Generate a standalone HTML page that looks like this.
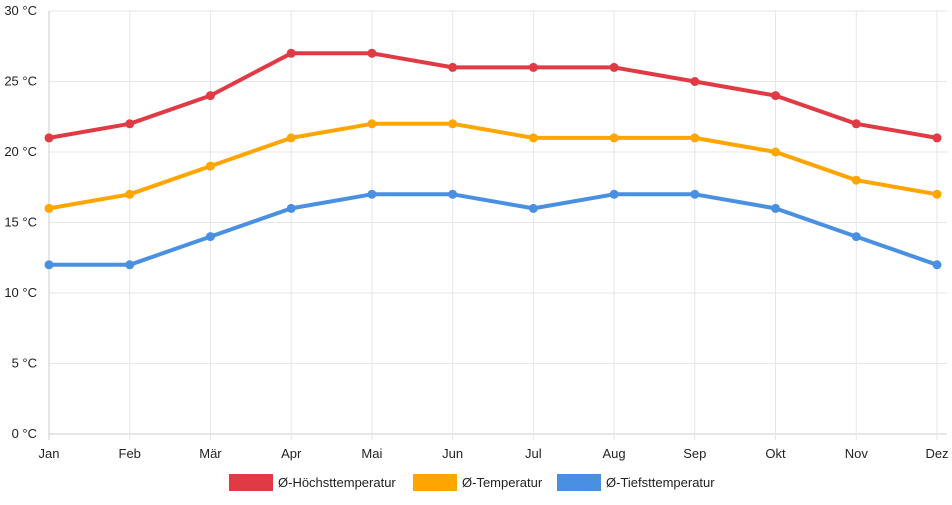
<!DOCTYPE html>
<html><head><meta charset="utf-8">
<style>
body{margin:0;background:#fff;font-family:"Liberation Sans",sans-serif;}
svg text{font-family:"Liberation Sans",sans-serif;font-size:13px;fill:#222;}
</style></head>
<body>
<svg id="chart" width="952" height="500" xmlns="http://www.w3.org/2000/svg">
<g id="grid"></g>
<g id="axes"></g>
<g id="series"></g>
<g id="legend"></g>
</svg>
<script>
const months=["Jan","Feb","Mär","Apr","Mai","Jun","Jul","Aug","Sep","Okt","Nov","Dez"];
const highTemps=[21,22,24,27,27,26,26,26,25,24,22,21];
const meanTemps=[16,17,19,21,22,22,21,21,21,20,18,17];
const lowTemps=[12,12,14,16,17,17,16,17,17,16,14,12];
const yTicks=[0,5,10,15,20,25,30];
const seriesNames=["Ø-Höchsttemperatur","Ø-Temperatur","Ø-Tiefsttemperatur"];
const NS="http://www.w3.org/2000/svg";
const x0=49,x1=937,yTop=11,yBot=434,yMax=30;
function xs(i){return x0+(x1-x0)*i/(months.length-1);}
function ys(v){return yBot-(yBot-yTop)*v/yMax;}
function mk(t,a,p){const e=document.createElementNS(NS,t);for(const k in a)e.setAttribute(k,a[k]);p.appendChild(e);return e;}
const grid=document.getElementById('grid'),axes=document.getElementById('axes'),ser=document.getElementById('series'),leg=document.getElementById('legend');
yTicks.forEach(v=>{
 const l=mk('line',{x1:x0,x2:x1+10,y1:ys(v),y2:ys(v),stroke:v===0?'#ccc':'#e6e6e6','stroke-width':1},grid);
 
 
 const t=mk('text',{x:37,y:ys(v)+4,'text-anchor':'end'},axes);
 t.textContent=v+' °C';
 
 
});
months.forEach((m,i)=>{
 const l=mk('line',{x1:xs(i),x2:xs(i),y1:yTop,y2:yBot+6,stroke:i===0?'#ccc':'#e6e6e6','stroke-width':1},grid);
 
 
 const t=mk('text',{x:xs(i),y:458,'text-anchor':'middle'},axes);
 t.textContent=m;
 
 
});
const all=[highTemps,meanTemps,lowTemps],cols=["#e03a45","#ffa500","#4a90e2"],ids=["high","mean","low"];
all.forEach((d,s)=>{
 const g=mk('g',{},ser);
 
 
 const p=mk('polyline',{points:d.map((v,i)=>xs(i)+','+ys(v)).join(' '),fill:'none',stroke:cols[s],'stroke-width':4,'stroke-linejoin':'round'},g);
 
 
 d.forEach((v,i)=>{
  const c=mk('circle',{cx:xs(i),cy:ys(v),r:4.5,fill:cols[s]},g);
  
  
 });
});
const lx=[229,413,557];
seriesNames.forEach((n,s)=>{
 const g=mk('g',{},leg);
 
 
 mk('rect',{x:lx[s],y:474,width:44,height:17,fill:cols[s]},g);
 const t=mk('text',{x:lx[s]+49,y:487},g);
 t.textContent=n;
});
</script>
</body></html>
